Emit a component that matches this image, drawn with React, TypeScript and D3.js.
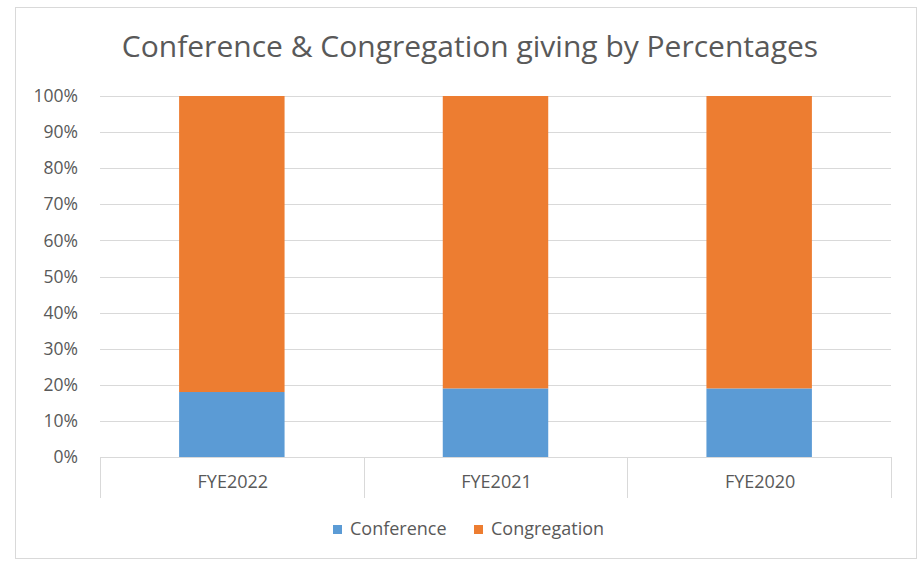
import React from 'react';
import * as d3 from 'd3';

const years = ['FYE2022', 'FYE2021', 'FYE2020'];
const conference = [0.18, 0.19, 0.19];
const congregation = [0.82, 0.81, 0.81];
const seriesNames = ['Conference', 'Congregation'];
const colors = ['#5B9BD5', '#ED7D31'];
const yTicks = [0, 0.1, 0.2, 0.3, 0.4, 0.5, 0.6, 0.7, 0.8, 0.9, 1];

const W = 922, H = 562;
const left = 100, right = 891, top = 96, bottom = 457;
const font = 'Open Sans, sans-serif';

export default function App() {
  const x = d3.scaleBand<string>().domain(years).range([left, right]).paddingInner(0.6).paddingOuter(0.3);
  const xOuter = d3.scaleBand<string>().domain(years).range([left, right]);
  const y = d3.scaleLinear().domain([0, 1]).range([bottom, top]);

  const rows = years.map((yr, i) => ({ year: yr, Conference: conference[i], Congregation: congregation[i] }));
  const stacked = d3.stack<any>().keys(seriesNames)(rows);

  return (
    <svg width={W} height={H} style={{ position: 'absolute', left: 0, top: 0, background: '#fff' }}>
      <rect x={15.5} y={7.5} width={901} height={551} fill="#fff" stroke="#D9D9D9" />
      <text x={470} y={57} textAnchor="middle" fontFamily={font} fontSize={30} fill="#595959">
        Conference &amp; Congregation giving by Percentages
      </text>
      {yTicks.map(t => (
        <g key={t}>
          <line x1={left} x2={right} y1={Math.round(y(t)) + 0.5} y2={Math.round(y(t)) + 0.5} stroke="#D9D9D9" />
          <text x={78} y={y(t)} dy="0.35em" textAnchor="end" fontFamily={font} fontSize={17.5} fill="#595959">
            {d3.format('.0%')(t)}
          </text>
        </g>
      ))}
      {years.concat(['end']).map((yr, i) => {
        const xx = i < years.length ? (xOuter(yr) as number) : right;
        return <line key={yr} x1={Math.round(xx) + 0.5} x2={Math.round(xx) + 0.5} y1={bottom} y2={498} stroke="#D9D9D9" />;
      })}
      {stacked.map((s, si) => (
        <g key={s.key} fill={colors[si]}>
          {s.map(d => (
            <rect key={d.data.year} x={x(d.data.year)} width={x.bandwidth()} y={y(d[1])} height={y(d[0]) - y(d[1])} />
          ))}
        </g>
      ))}
      {years.map(yr => (
        <text key={yr} x={(x(yr) as number) + x.bandwidth() / 2 + 1} y={482} dy="0.35em" textAnchor="middle" fontFamily={font} fontSize={18} fill="#595959">
          {yr}
        </text>
      ))}
      {seriesNames.map((n, i) => {
        const lx = i === 0 ? 333 : 474;
        return (
          <g key={n}>
            <rect x={lx} y={525} width={9} height={9} fill={colors[i]} />
            <text x={lx + 17} y={528.5} dy="0.35em" fontFamily={font} fontSize={18} fill="#595959">{n}</text>
          </g>
        );
      })}
    </svg>
  );
}
